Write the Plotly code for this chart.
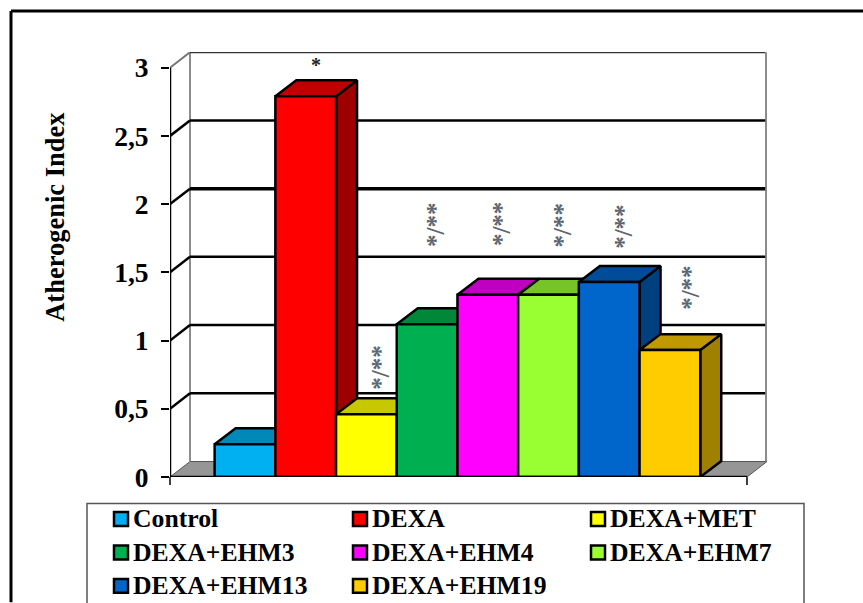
import plotly.graph_objects as go

# Atherogenic index per treatment group
groups = ["Control", "DEXA", "DEXA+MET", "DEXA+EHM3", "DEXA+EHM4",
          "DEXA+EHM7", "DEXA+EHM13", "DEXA+EHM19"]
values = [0.24, 2.79, 0.46, 1.12, 1.335, 1.335, 1.43, 0.93]
colors = ["#00B0F0", "#FF0000", "#FFFF00", "#00B050", "#FF00FF",
          "#99FF33", "#0066CC", "#FFCC00"]
top_colors = ["#0088B8", "#C00000", "#C8C800", "#008838", "#C000C0",
              "#76C428", "#004C99", "#C09900"]
side_colors = ["#006F98", "#9E0000", "#A0A000", "#006E2C", "#A000A0",
               "#60A020", "#004080", "#A08000"]
y_ticks = [0, 0.5, 1, 1.5, 2, 2.5, 3]

# Significance marks: text and position on the two axes
sig_labels = ["*", "*/**", "*/**", "*/**", "*/**", "*/**", "*/**"]
sig_x = [2.17, 3.232, 4.138, 5.226, 6.231, 7.236, 8.339]
sig_y = [3.02, 0.805, 1.85, 1.85, 1.84, 1.83, 1.39]

# Page frame of the drawing, in pixels
W, H = 863, 603
L, R, T, B = 170, 767, 52, 477.5
UNIT_X = 60.7           # pixels per group
UNIT_Y = 136.6          # pixels per index unit
X0 = 245                # pixel centre of the first group

x_lo = 1 + (L - X0) / UNIT_X
x_hi = 1 + (R - X0) / UNIT_X
y_hi = (B - T) / UNIT_Y

# Oblique depth of the 3-D box, in axis units
DX = 20 / UNIT_X
DY = 15.5 / UNIT_Y
BAR_DX = 21 / UNIT_X
BAR_DY = 16 / UNIT_Y
x_front_end = x_hi - DX


def paper_x(p):
    return (p - L) / (R - L)


def paper_y(p):
    return (B - p) / (B - T)


fig = go.Figure()


def poly(xs, ys, fill, line="black", width=2.5):
    fig.add_trace(go.Scatter(
        x=xs + xs[:1], y=ys + ys[:1], mode="lines", fill="toself",
        fillcolor=fill, line=dict(color=line, width=width),
        hoverinfo="skip", showlegend=False, cliponaxis=False))


def path(xs, ys, color="black", width=2):
    fig.add_trace(go.Scatter(
        x=xs, y=ys, mode="lines", line=dict(color=color, width=width),
        hoverinfo="skip", showlegend=False, cliponaxis=False))


# Floor of the box
poly([x_lo, x_lo + DX, x_hi, x_front_end], [0, DY, DY, 0], "#969696", "#555555", 1)

# Back wall edges
path([x_lo + DX, x_lo + DX], [DY, 3 + DY], "#8c8c8c", 2)
path([x_hi, x_hi], [DY, 3 + DY], "#8c8c8c", 4)

# Gridlines wrap from the side wall around the back wall
for t in y_ticks[1:]:
    heavy = 3.5 if t == 2 else 2.5
    if t == 3:
        path([x_lo, x_lo + DX], [t, t + DY], "#777777", 2)
        path([x_lo + DX, x_hi - 0.03], [t + DY, t + DY], "#333333", 2)
    else:
        path([x_lo, x_lo + DX], [t, t + DY], "black", 2.5)
        path([x_lo + DX, x_hi - 0.03], [t + DY, t + DY], "black", heavy)

# Bars, painted left to right so later ones overlap earlier side faces
for i, v in enumerate(values):
    left, right = i + 0.5, i + 1.5
    poly([right, right + BAR_DX, right + BAR_DX, right],
         [0, BAR_DY, v + BAR_DY, v], side_colors[i])
    poly([left, left + BAR_DX, right + BAR_DX, right],
         [v, v + BAR_DY, v + BAR_DY, v], top_colors[i])
    poly([left, right, right, left], [0, 0, v, v], colors[i])

# Front edge of the floor and left axis line
path([x_lo, x_front_end], [0, 0], "black", 2.5)
path([x_lo, x_lo], [0, 3], "black", 2.5)

annotations = []
for label, sx, sy in zip(sig_labels, sig_x, sig_y):
    single = label == "*"
    annotations.append(dict(
        x=sx, y=sy, xref="x", yref="y",
        text=f"<b>{label}</b>", showarrow=False, textangle=0 if single else -90,
        font=dict(family="Liberation Serif", size=20 if single else 25,
                  color="#222222" if single else "#5c6670")))

annotations.append(dict(
    x=paper_x(55), y=paper_y(217), xref="paper", yref="paper",
    xanchor="center", yanchor="middle",
    text="<b>Atherogenic Index</b>", textangle=-90, showarrow=False,
    font=dict(family="Liberation Serif", size=26.5, color="black")))

# Frame around the whole chart, open at the right and the bottom edges
shapes = [
    dict(type="line", xref="paper", yref="paper", x0=paper_x(11), x1=paper_x(W),
         y0=paper_y(11), y1=paper_y(11), line=dict(color="black", width=3)),
    dict(type="line", xref="paper", yref="paper", x0=paper_x(11), x1=paper_x(11),
         y0=paper_y(11), y1=paper_y(H), line=dict(color="black", width=3)),
    # Key box runs off the bottom of the page
    dict(type="rect", xref="paper", yref="paper", x0=paper_x(87), x1=paper_x(804),
         y0=paper_y(504), y1=paper_y(H + 10), line=dict(color="#555555", width=1.5)),
]

# End ticks of the category axis
for tick_x in (L, L + (x_front_end - x_lo) * UNIT_X):
    shapes.append(dict(type="line", xref="paper", yref="paper",
                       x0=paper_x(tick_x), x1=paper_x(tick_x),
                       y0=paper_y(B), y1=paper_y(B + 8),
                       line=dict(color="black", width=1.5)))

# Key: three columns of swatch and group name
col_px = [114, 353, 591]
row_px = [519.5, 553, 586.5]
for i, name in enumerate(groups):
    cx, cy = col_px[i % 3], row_px[i // 3]
    shapes.append(dict(
        type="rect", xref="paper", yref="paper",
        x0=paper_x(cx), x1=paper_x(cx + 14),
        y0=paper_y(cy - 7), y1=paper_y(cy + 7),
        fillcolor=colors[i], line=dict(color="black", width=2.5)))
    annotations.append(dict(
        x=paper_x(cx + 17), y=paper_y(cy), xref="paper", yref="paper",
        xanchor="left", yanchor="middle", text=f"<b>{name}</b>", showarrow=False,
        font=dict(family="Liberation Serif", size=25.7, color="black")))

fig.update_layout(
    width=W, height=H, autosize=False,
    margin=dict(l=L, r=W - R, t=T, b=H - B, pad=0),
    paper_bgcolor="white", plot_bgcolor="white",
    separators=",.", showlegend=False,
    annotations=annotations, shapes=shapes,
    xaxis=dict(range=[x_lo, x_hi], showgrid=False, zeroline=False, showline=False,
               showticklabels=False, ticks="", fixedrange=True),
    yaxis=dict(range=[0, y_hi], showgrid=False, zeroline=False, showline=False,
               tickmode="array", tickvals=y_ticks,
               ticktext=[f"<b>{str(t).replace('.', ',') if t % 1 else int(t)}</b>" for t in y_ticks],
               ticks="outside", ticklen=8, tickwidth=1.5, tickcolor="black",
               ticklabelstandoff=7,
               tickfont=dict(family="Liberation Serif", size=27.5, color="black"),
               fixedrange=True),
)

fig.write_html("out.html", config=dict(displayModeBar=False))
